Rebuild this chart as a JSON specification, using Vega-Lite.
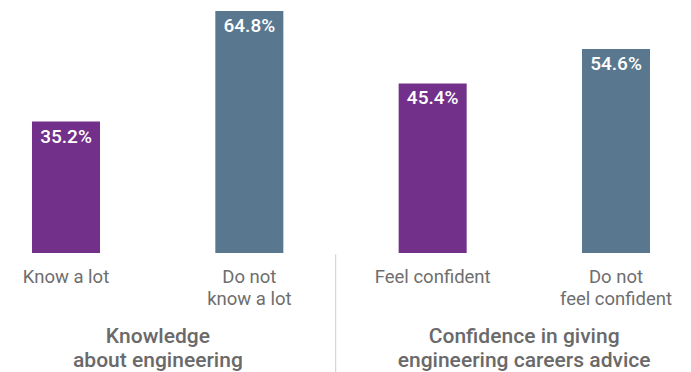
{
  "$schema": "https://vega.github.io/schema/vega-lite/v6.json",
  "width": 682,
  "height": 253,
  "autosize": {"type": "none"},
  "padding": {"left": 0, "top": 0, "right": 9, "bottom": 119},
  "background": "white",
  "config": {"view": {"stroke": null}, "font": "Roboto"},
  "data": {
    "values": [
      {"cat": "Know a lot", "group": "Knowledge\nabout engineering", "type": "positive", "value": 35.2},
      {"cat": "Do not know a lot", "group": "Knowledge\nabout engineering", "type": "negative", "value": 64.8},
      {"cat": "Feel confident", "group": "Confidence in giving\nengineering careers advice", "type": "positive", "value": 45.4},
      {"cat": "Do not feel confident", "group": "Confidence in giving\nengineering careers advice", "type": "negative", "value": 54.6}
    ]
  },
  "layer": [
    {
      "encoding": {
        "x": {
          "field": "cat",
          "type": "nominal",
          "sort": null,
          "scale": {"paddingInner": 0.629, "paddingOuter": 0.1745},
          "axis": {
            "title": null,
            "domain": false,
            "ticks": false,
            "tickSize": 0,
            "labelAngle": 0,
            "labelPadding": 29,
            "labelBaseline": "alphabetic",
            "labelFont": "Roboto",
            "labelFontSize": 18.5,
            "labelLineHeight": 22,
            "labelColor": "#6e6e6e",
            "labelExpr": "indexof(datum.label, 'Do not ') == 0 ? ['Do not', substring(datum.label, 7)] : datum.label"
          }
        }
      },
      "layer": [
        {
          "mark": {"type": "bar"},
          "encoding": {
            "y": {"field": "value", "type": "quantitative", "scale": {"domain": [0, 67.75], "nice": false}, "axis": null},
            "color": {"field": "type", "type": "nominal", "scale": {"domain": ["positive", "negative"], "range": ["#73308A", "#59788F"]}, "legend": null}
          }
        },
        {
          "transform": [{"calculate": "format(datum.value, '.1f') + '%'", "as": "lbl"}],
          "mark": {"type": "text", "color": "white", "font": "Roboto Medium, Roboto", "fontSize": 19, "baseline": "alphabetic", "dy": 21},
          "encoding": {
            "y": {"field": "value", "type": "quantitative"},
            "text": {"field": "lbl"}
          }
        },
        {
          "transform": [{"filter": "datum.cat == 'Do not know a lot'"}],
          "mark": {"type": "rule", "color": "#cccccc", "strokeWidth": 1},
          "encoding": {
            "x": {"field": "cat", "type": "nominal", "bandPosition": 1.77},
            "y": {"datum": -0.4},
            "y2": {"datum": -32}
          }
        }
      ]
    },
    {
      "transform": [{"aggregate": [{"op": "count", "as": "n"}], "groupby": ["group"]}],
      "mark": {"type": "text", "font": "Roboto Medium, Roboto", "fontSize": 21, "color": "#6a6a6a", "baseline": "alphabetic", "lineBreak": "\n", "lineHeight": 24},
      "encoding": {
        "x": {"field": "group", "type": "nominal", "sort": null, "scale": {"type": "point", "padding": 0.431}, "axis": null},
        "y": {"datum": -24.1},
        "text": {"field": "group"}
      }
    }
  ],
  "resolve": {"scale": {"x": "independent"}}
}
